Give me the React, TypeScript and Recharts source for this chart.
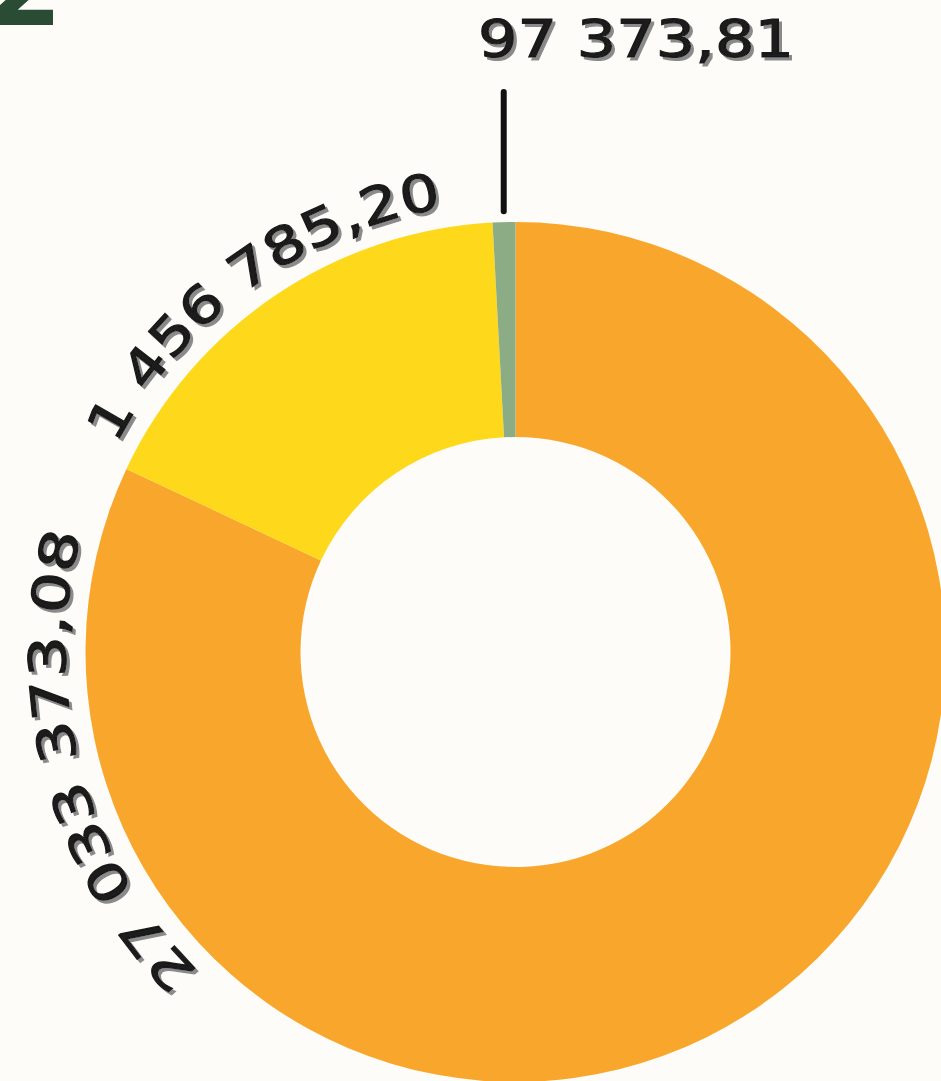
import { PieChart, Pie, Cell } from 'recharts'

// slice order follows the ring clockwise from 12 o'clock
const amounts = [27033373.08, 1456785.2, 97373.81]
// share of the ring each slice takes in the picture (%)
const shares = [82.0, 17.15, 0.85]
const colors = ['#F8A72C', '#FED91B', '#8BAC85']

const RADIAN = Math.PI / 180
const FONT = '"DejaVu Sans", sans-serif'

function formatAmount(v: number) {
    const [int, dec] = v.toFixed(2).split('.')
    return int.replace(/\B(?=(\d{3})+(?!\d))/g, ' ') + ',' + dec
}

function polar(cx: number, cy: number, r: number, deg: number) {
    return [cx + r * Math.cos(-deg * RADIAN), cy + r * Math.sin(-deg * RADIAN)]
}

const data = amounts.map((amount, i) => ({
    name: formatAmount(amount),
    share: shares[i],
    color: colors[i],
}))

const textStyle = { fontFamily: FONT, fontSize: 51 }

function renderLabel(props: any) {
    const { cx, cy, outerRadius, midAngle, index, name } = props
    const filterId = `label-shadow-${index}`
    const shadow = (
        <filter id={filterId} x="-10%" y="-30%" width="120%" height="160%">
            <feDropShadow dx={3} dy={3} stdDeviation={0.3} floodColor="#8a8a8a" floodOpacity={1} />
        </filter>
    )

    if (index === 2) {
        const [lx, ly] = polar(cx, cy, outerRadius + 11, midAngle)
        return (
            <g>
                <defs>{shadow}</defs>
                <line x1={lx} y1={ly} x2={lx} y2={92} stroke="#111" strokeWidth={6} strokeLinecap="round" />
                <text
                    x={478}
                    y={57}
                    fill="#1a1a1a"
                    stroke="#1a1a1a"
                    strokeWidth={1.2}
                    filter={`url(#${filterId})`}
                    textLength={316}
                    lengthAdjust="spacingAndGlyphs"
                    style={textStyle}
                >
                    {name}
                </text>
            </g>
        )
    }

    const angle = index === 0 ? 195 : midAngle + 2
    const r = outerRadius + 20
    const span = 85
    const [sx, sy] = polar(cx, cy, r, angle + span)
    const [ex, ey] = polar(cx, cy, r, angle - span)
    const id = `label-arc-${index}`
    const len = index === 0 ? 474 : 418

    return (
        <g>
            <defs>
                <path id={id} d={`M ${sx} ${sy} A ${r} ${r} 0 0 1 ${ex} ${ey}`} fill="none" />
                {shadow}
            </defs>
            <text
                fill="#1a1a1a"
                stroke="#1a1a1a"
                strokeWidth={1.2}
                filter={`url(#${filterId})`}
                style={textStyle}
            >
                <textPath
                    href={`#${id}`}
                    startOffset="50%"
                    textAnchor="middle"
                    textLength={len}
                    lengthAdjust="spacingAndGlyphs"
                >
                    {name}
                </textPath>
            </text>
        </g>
    )
}

export default function App() {
    return (
        <div
            style={{
                position: 'absolute',
                top: 0,
                left: 0,
                width: 941,
                height: 1081,
                overflow: 'hidden',
                background: '#fdfcf9',
            }}
        >
            <div
                style={{
                    position: 'absolute',
                    left: -14,
                    top: -68,
                    fontFamily: FONT,
                    fontWeight: 'bold',
                    fontSize: 110,
                    lineHeight: '110px',
                    color: '#2b4c34',
                }}
            >
                2
            </div>
            <PieChart width={941} height={1081} margin={{ top: 0, right: 0, bottom: 0, left: 0 }}>
                <Pie
                    data={data}
                    dataKey="share"
                    nameKey="name"
                    cx={515.5}
                    cy={652}
                    innerRadius={215}
                    outerRadius={430}
                    startAngle={90}
                    endAngle={-270}
                    stroke="none"
                    label={renderLabel}
                    labelLine={false}
                    isAnimationActive={false}
                >
                    {data.map((entry) => (
                        <Cell key={entry.name} fill={entry.color} />
                    ))}
                </Pie>
            </PieChart>
        </div>
    )
}
